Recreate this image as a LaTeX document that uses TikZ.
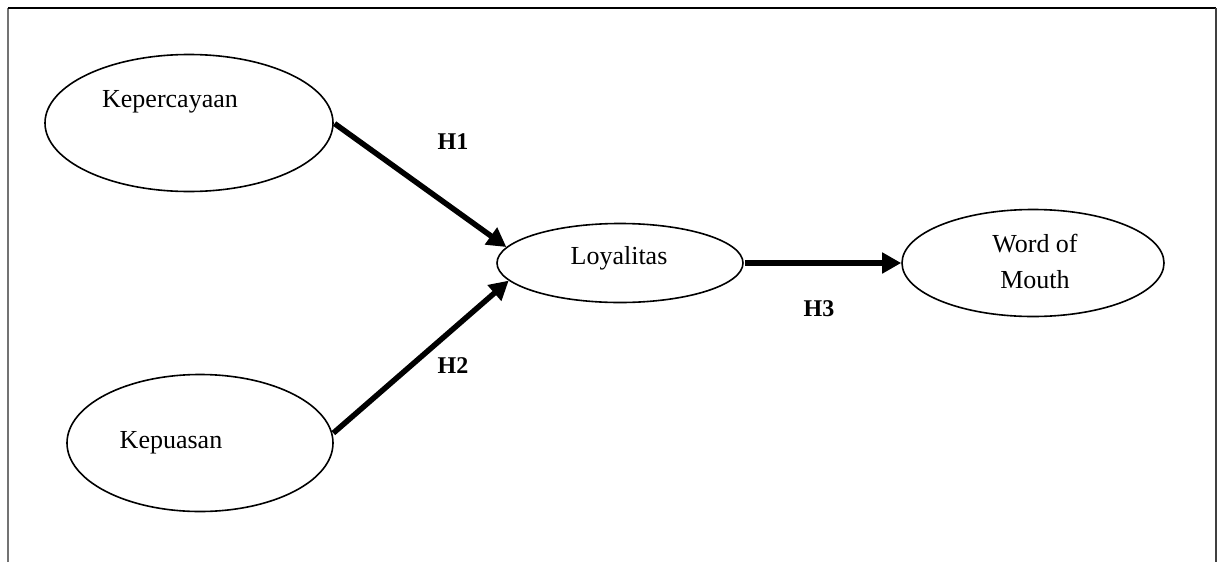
\documentclass[tikz,border=0pt]{standalone}
\usepackage{fontspec}
\setmainfont{Liberation Serif}
\usetikzlibrary{shapes.geometric,arrows.meta}

\tikzset{
  construct/.style={ellipse, draw=black, line width=1.6pt, inner sep=0pt},
  caption/.style={font=\fontsize{26}{36}\selectfont, inner sep=0pt, align=center},
  hyp/.style={font=\fontsize{24}{28}\selectfont\bfseries, inner sep=0pt},
  path arrow/.style={line width=5.5pt, -{Triangle[length=19pt,width=20pt]}, shorten <=1pt}
}

\begin{document}
\begin{tikzpicture}[x=1pt, y=-1pt]
  \useasboundingbox (0,0) rectangle (1222,562);

  % open frame around the model
  \draw[line width=1.5pt, black!55] (8,562) -- (8,8);
  \draw[line width=1.5pt, black] (8,8) -- (1216,8);
  \draw[line width=1.5pt, black!75] (1216,8) -- (1216,562);

  % latent constructs
  \node[construct, minimum width=288pt, minimum height=137pt] (kep) at (189,123) {};
  \node[construct, minimum width=266pt, minimum height=137pt] (kup) at (200,443) {};
  \node[construct, minimum width=246pt, minimum height=79pt]  (loy) at (620,263) {};
  \node[construct, minimum width=262pt, minimum height=107pt] (wom) at (1033,263) {};

  % construct names
  \node[caption, anchor=base] (kept) at (170,107) {Kepercayaan};
  \node[caption, anchor=base] (kupt) at (171,448) {Kepuasan};
  \node[caption, anchor=base] (loyt) at (619,264) {Loyalitas};
  \node[caption] (womt) at (1035,261) {Word of\\Mouth};

  % hypothesised paths
  \draw[path arrow] (kep.east) -- (loy.172);
  \draw[path arrow] (kup.4) -- (loy.189);
  \draw[path arrow] (loy.east) -- (wom.west);

  % hypothesis labels
  \node[hyp] (h1) at (453,142) {H1};
  \node[hyp] (h2) at (453,366) {H2};
  \node[hyp] (h3) at (819,309) {H3};
\end{tikzpicture}
\end{document}
